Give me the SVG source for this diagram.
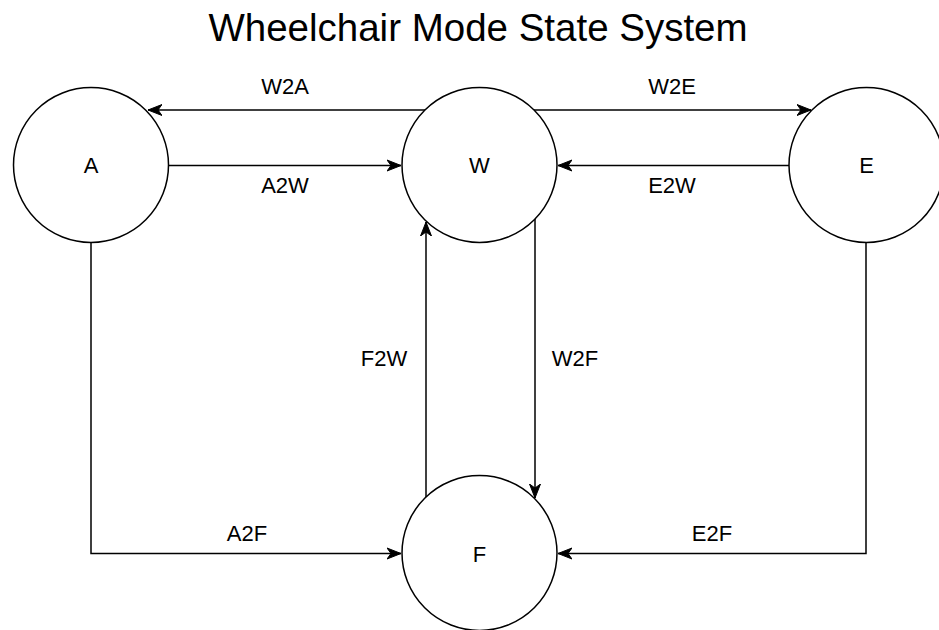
<svg xmlns="http://www.w3.org/2000/svg" width="939" height="630" viewBox="0 0 939 630">
<style>
.node{fill:#fff;stroke:#000;stroke-width:1.5}
.lbl{font-family:"Liberation Sans",Arial,sans-serif;font-size:22px;fill:#000;text-anchor:middle;dominant-baseline:central}
.edge{fill:none;stroke:#000;stroke-width:1.5;marker-end:url(#arr)}
.title{font-family:"Liberation Sans",Arial,sans-serif;font-size:38.5px;fill:#000;text-anchor:middle}
</style>
<defs>
<marker id="arr" markerUnits="userSpaceOnUse" markerWidth="16" markerHeight="13" refX="14" refY="6.5" orient="auto" viewBox="0 0 16 13">
<path d="M0,1 L14,6.5 L0,12 L4,6.5 Z" fill="#000" stroke="#000" stroke-width="1"/>
</marker>
</defs>
<rect width="939" height="630" fill="#fff"/>
<text class="title" x="478" y="41">Wheelchair Mode State System</text>
<g id="connectors">
<path class="edge" d="M425,110 L148,110"/>
<path class="edge" d="M169,165.5 L401,165.5"/>
<path class="edge" d="M534,110 L811,110"/>
<path class="edge" d="M789,165.5 L558,165.5"/>
<path class="edge" d="M91,243 L91,553.5 L401,553.5"/>
<path class="edge" d="M866,243 L866,553.5 L558,553.5"/>
<path class="edge" d="M426,497 L426,222"/>
<path class="edge" d="M535,219 L535,498"/>
<text class="lbl" x="285" y="86">W2A</text>
<text class="lbl" x="285" y="185">A2W</text>
<text class="lbl" x="672" y="86">W2E</text>
<text class="lbl" x="672" y="185">E2W</text>
<text class="lbl" x="384" y="358">F2W</text>
<text class="lbl" x="575" y="358">W2F</text>
<text class="lbl" x="247" y="533">A2F</text>
<text class="lbl" x="712" y="533">E2F</text>
</g>
<g id="node-A"><circle class="node" cx="91" cy="165" r="77.5"/><text class="lbl" x="91" y="165">A</text></g>
<g id="node-W"><circle class="node" cx="479.5" cy="165" r="77.5"/><text class="lbl" x="479.5" y="165">W</text></g>
<g id="node-E"><circle class="node" cx="866.5" cy="165" r="77.5"/><text class="lbl" x="866.5" y="165">E</text></g>
<g id="node-F"><circle class="node" cx="479.5" cy="553" r="77.5"/><text class="lbl" x="479.5" y="554">F</text></g>
</svg>
